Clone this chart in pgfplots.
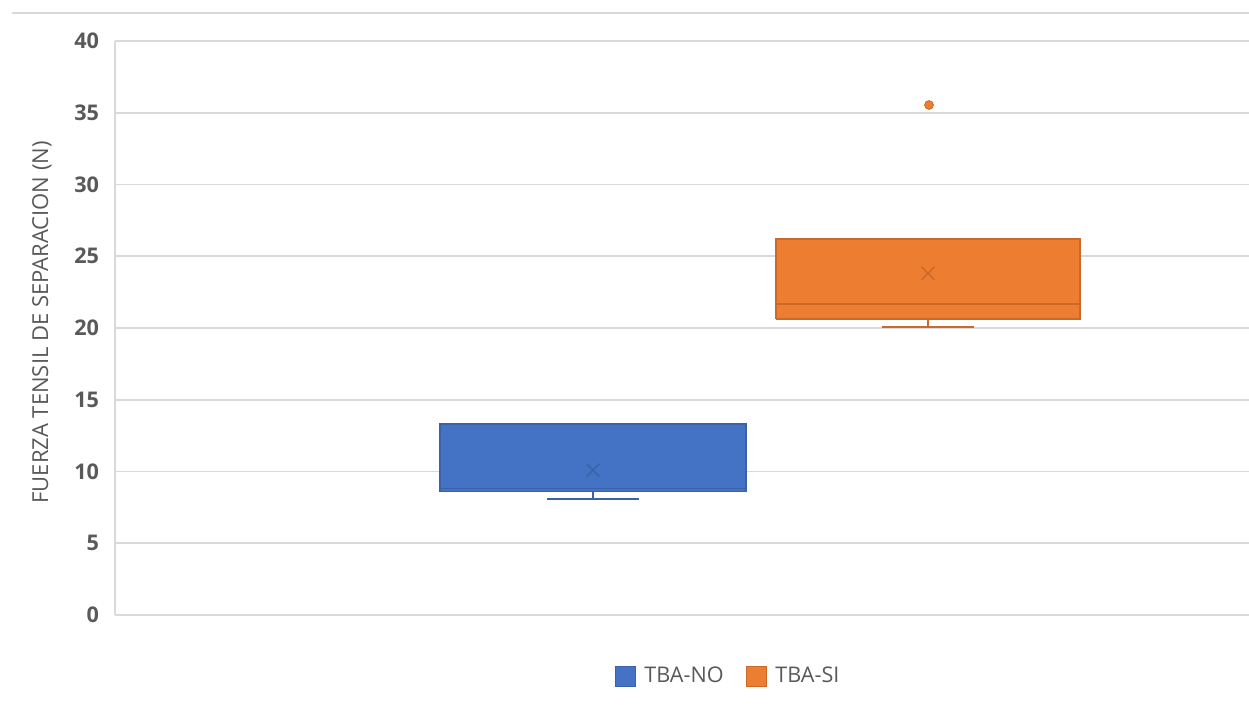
\documentclass[border=0pt]{standalone}
\usepackage{fontspec}
\setmainfont{Open Sans}
\usepackage{pgfplots}
\pgfplotsset{compat=1.18}
\definecolor{xlblue}{HTML}{4472C4}
\definecolor{xlblued}{HTML}{3A62A8}
\definecolor{xlorange}{HTML}{ED7D31}
\definecolor{xloranged}{HTML}{C9692A}
\definecolor{gridc}{HTML}{D9D9D9}
\definecolor{txt}{HTML}{595959}
\begin{document}
\begin{tikzpicture}
\path[use as bounding box] (0,0) rectangle (624.5pt,359.5pt);
\draw[gridc, line width=0.8pt] (6pt,353pt) -- (624.5pt,353pt);
\begin{axis}[
  at={(57.5pt,52pt)}, anchor=south west,
  scale only axis, width=567pt, height=287pt,
  xmin=115, xmax=1249, ymin=0, ymax=40,
  ytick={0,5,...,40},
  xtick=\empty,
  axis x line=none,
  axis y line*=left,
  y axis line style={gridc, line width=0.8pt, -},
  ymajorgrids, grid style={gridc, line width=0.8pt},
  major tick length=0pt,
  yticklabel style={txt, font=\fontsize{10.8}{12}\selectfont\bfseries, xshift=-4.5pt},
  /pgf/number format/assume math mode=true,
  ylabel={FUERZA TENSIL DE SEPARACION (N)},
  ylabel style={at={(axis description cs:-0.0644,0.51)}, anchor=center, txt, font=\fontsize{11}{13}\selectfont},
  clip=false,
  legend style={at={(axis cs:729,-4.25)}, anchor=center, draw=none, fill=none,
    legend columns=2, font=\fontsize{10.8}{12}\selectfont, text=txt,
    /tikz/every odd column/.append style={column sep=2.5pt},
    /tikz/every even column/.append style={column sep=9pt}},
  legend image code/.code={\draw[#1] (0pt,-5pt) rectangle (10pt,5pt);},
]
% TBA-NO box: Q1=8.59, median=8.82, Q3=13.31, lower whisker=8.08, mean=10.1
\addplot[fill=xlblue, draw=xlblued, line width=0.6pt, forget plot] coordinates {(440,8.59) (746,8.59) (746,13.31) (440,13.31) (440,8.59)};
\addplot[draw=xlblued, line width=0.9pt, forget plot] coordinates {(440,8.82) (746,8.82)};
\addplot[draw=xlblued, line width=0.8pt, forget plot] coordinates {(593,8.59) (593,8.08)};
\addplot[draw=xlblued, line width=0.8pt, forget plot] coordinates {(547,8.08) (639,8.08)};
\addplot[only marks, mark=x, mark size=4.5pt, draw=xlblued, line width=0.7pt, forget plot] coordinates {(593,10.1)};
% TBA-SI box: Q1=20.63, median=21.7, Q3=26.2, lower whisker=20.05, mean=23.8, outlier=35.54
\addplot[fill=xlorange, draw=xloranged, line width=0.6pt, forget plot] coordinates {(776,20.63) (1080,20.63) (1080,26.2) (776,26.2) (776,20.63)};
\addplot[draw=xloranged, line width=0.9pt, forget plot] coordinates {(776,21.7) (1080,21.7)};
\addplot[draw=xloranged, line width=0.8pt, forget plot] coordinates {(928,20.63) (928,20.05)};
\addplot[draw=xloranged, line width=1pt, forget plot] coordinates {(882,20.07) (974,20.07)};
\addplot[only marks, mark=x, mark size=4.5pt, draw=xloranged, line width=0.7pt, forget plot] coordinates {(928,23.8)};
\addplot[only marks, mark=*, mark size=2.2pt, fill=xlorange, draw=xloranged, line width=0.4pt, forget plot] coordinates {(929,35.54)};
\addlegendimage{fill=xlblue, draw=xlblued}
\addlegendentry{TBA-NO}
\addlegendimage{fill=xlorange, draw=xloranged}
\addlegendentry{TBA-SI}
\end{axis}
\end{tikzpicture}
\end{document}
